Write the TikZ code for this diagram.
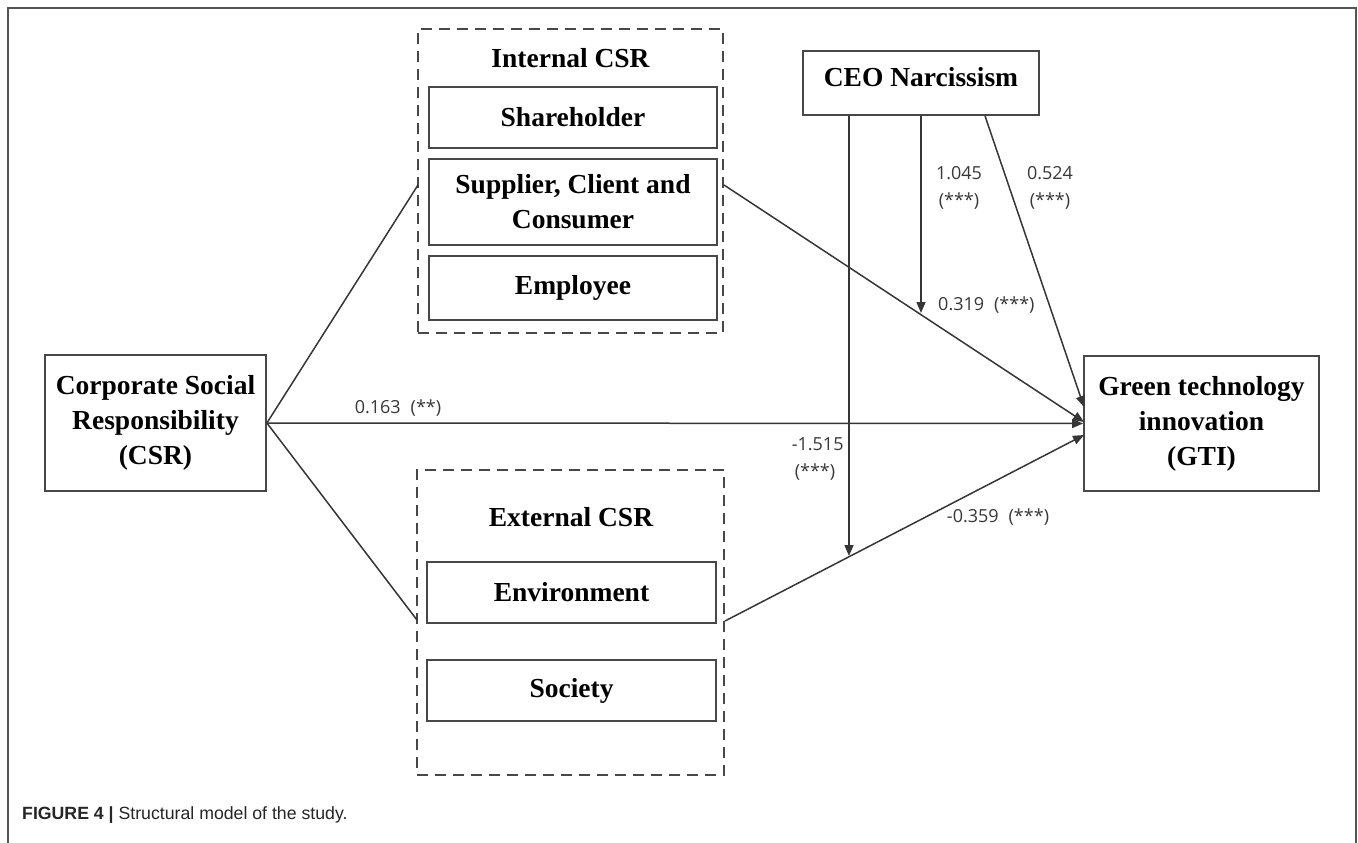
\documentclass[tikz,border=0pt]{standalone}
\usepackage{fontspec}
\setmainfont{Liberation Serif}
\newfontfamily\numfont{Open Sans}
\newfontfamily\capfont{Liberation Sans}
\usetikzlibrary{arrows.meta,calc}
\definecolor{linec}{HTML}{363636}
\definecolor{boxc}{HTML}{474747}
\definecolor{labc}{HTML}{383838}
\definecolor{framec}{HTML}{555555}
\tikzset{
  bx/.style={draw=boxc, line width=1.8pt, inner sep=0pt, align=center,
    font=\fontsize{27.5}{35}\selectfont\bfseries, text=black},
  grp/.style={draw=boxc, line width=1.6pt, dash pattern=on 11pt off 7pt, inner sep=0pt},
  grplab/.style={font=\fontsize{27.5}{35}\selectfont\bfseries, text=black},
  conn/.style={draw=linec, line width=1.5pt},
  arr/.style={conn, -{Triangle[length=11pt,width=9pt]}},
  lab/.style={font=\numfont\fontsize{18}{27}\selectfont, text=labc, inner sep=0pt, align=center},
}
\begin{document}
\begin{tikzpicture}[x=1pt,y=-1pt]
\useasboundingbox[fill=white] (0,0) rectangle (1358,843);
% outer frame
\draw[framec, line width=2pt] (8,843) -- (8,8) -- (1356,8) -- (1356,843);

% main nodes
\node[bx, minimum width=221, minimum height=136] (csr) at (155.5,423) {Corporate Social\\Responsibility\\(CSR)};
\node[bx, minimum width=235, minimum height=135] (gti) at (1201.5,423.5) {Green technology\\innovation\\(GTI)};
\node[bx, minimum width=236, minimum height=64, text depth=12pt] (ceo) at (921,83) {CEO Narcissism};

% internal group
\node[grp, minimum width=305, minimum height=304] (intbox) at (570.5,181) {};
\node[grplab] (intlab) at (570.5,58) {Internal CSR};
\node[bx, minimum width=288, minimum height=61] (share) at (573,117.5) {Shareholder};
\node[bx, minimum width=288, minimum height=86] (supp) at (573,202) {Supplier, Client and\\Consumer};
\node[bx, minimum width=288, minimum height=64] (empl) at (573,288) {Employee};

% external group
\node[grp, minimum width=307, minimum height=305] (extbox) at (570.5,622.5) {};
\node[grplab] (extlab) at (571,517) {External CSR};
\node[bx, minimum width=289, minimum height=61] (env) at (571.5,592.5) {Environment};
\node[bx, minimum width=289, minimum height=61] (soc) at (571.5,690.5) {Society};

% connector end points
\coordinate (iL) at (418,185);
\coordinate (iR) at (724,185);
\coordinate (eL) at (417,620);
\coordinate (eR) at (725,621);
\coordinate (g0) at (1084,407);
\coordinate (g1) at (1084,422);
\coordinate (g3) at (1084,435);
\coordinate (m1) at (921,313);
\coordinate (m2) at (849,556);

% connectors
\draw[conn] (csr.east) -- (iL);
\draw[conn] (csr.east) -- (eL);
\draw[arr] (csr.east) -- (gti.west);
\draw[arr] (iR) -- (g1);
\draw[arr] (eR) -- (g3);
\draw[arr] ([xshift=-72pt]ceo.south) -- (m2);
\draw[arr] (ceo.south) -- (m1);
\draw[arr] ([xshift=64pt]ceo.south) -- (g0);

% labels
\node[lab] (l1) at (398,408) {0.163\hspace{0.55em}(**)};
\node[lab] (l2) at (959,188) {1.045\\(***)};
\node[lab] (l3) at (1050,188) {0.524\\(***)};
\node[lab, anchor=west] (l4) at (938,305) {0.319\hspace{0.55em}(***)};
\node[lab] (l5) at (815,459) {\hphantom{(}-1.515\\(***)};
\node[lab] (l6) at (998,517) {-0.359\hspace{0.55em}(***)};

% caption
\node[anchor=base west, inner sep=0pt, text=black!85, font=\capfont\fontsize{17.7}{20}\selectfont] (cap) at (22,819) {\textbf{FIGURE 4 |} Structural model of the study.};
\end{tikzpicture}
\end{document}
